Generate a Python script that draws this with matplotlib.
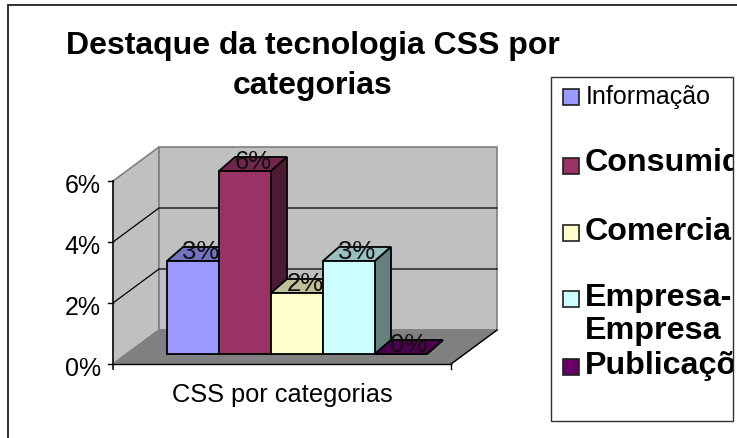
import numpy as np
import matplotlib
matplotlib.use('Agg')
import matplotlib.pyplot as plt
from matplotlib.patches import Polygon, Rectangle
from matplotlib.transforms import IdentityTransform

plt.rcParams['font.family'] = ['Liberation Sans', 'DejaVu Sans']

# Data
categories = ['Informação', 'Consumidor', 'Comercial', 'Empresa-\nEmpresa', 'Publicações']
values = [3.05, 6.0, 2.0, 3.05, 0.0]
value_labels = ['3%', '6%', '2%', '3%', '0%']
y_ticks = [0, 2, 4, 6]
y_tick_labels = ['0%', '2%', '4%', '6%']
x_label = 'CSS por categorias'
title_lines = ['Destaque da tecnologia CSS por', 'categorias']

face = ['#9999ff', '#993366', '#ffffcc', '#ccffff', '#660066']
top = ['#7373bf', '#73264d', '#bfbf99', '#99bfbf', '#4d004d']
side = ['#4d4d80', '#4d1a33', '#808066', '#668080', '#330033']

W, H = 737, 439
fig = plt.figure(figsize=(W / 100, H / 100), dpi=100)

# front plane of the 3d box, in pixels
left, right, y0, y6 = 113, 451, 365, 182
ax = fig.add_axes([left / W, 1 - y0 / H, (right - left) / W, (y0 - y6) / H])
ax.set_ylim(0, 6)
ax.set_xlim(-54 / 52, (right - 167) / 52)
ax.axis('off')

ident = IdentityTransform()
box_d = np.array([46, 34])
bar_d = np.array([16, 14])
bar_front = np.array([0, 10])


def pt(x, y, off=(0, 0)):
    return ax.transData.transform((x, y)) + np.array(off)


def poly(pts, fc, ec='black', lw=1.3, z=2):
    ax.add_patch(Polygon(pts, closed=True, fc=fc, ec=ec, lw=lw, transform=ident,
                         clip_on=False, zorder=z, joinstyle='miter'))


xa, xb = ax.get_xlim()
grey = '#808080'
# walls and floor
poly([pt(xa, 0), pt(xa, 6), pt(xa, 6, box_d), pt(xa, 0, box_d)], '#c0c0c0', grey, 1.2, 1)
poly([pt(xa, 0, box_d), pt(xa, 6, box_d), pt(xb, 6, box_d), pt(xb, 0, box_d)], '#c0c0c0', grey, 1.2, 1)
poly([pt(xa, 0), pt(xa, 0, box_d), pt(xb, 0, box_d), pt(xb, 0)], grey, grey, 1.0, 1)

# gridlines on the walls
for t in y_ticks[1:-1]:
    p = np.array([pt(xa, t), pt(xa, t, box_d), pt(xb, t, box_d)])
    ax.plot(p[:, 0], p[:, 1], color='black', lw=0.9, transform=ident, clip_on=False, zorder=1.5)

# axes
p = np.array([pt(xa, 0), pt(xb, 0)])
ax.plot(p[:, 0], p[:, 1], color='black', lw=1.0, transform=ident, clip_on=False, zorder=1.6)
p = np.array([pt(xb, 0), pt(xb, 0, box_d)])
ax.plot(p[:, 0], p[:, 1], color='black', lw=1.0, transform=ident, clip_on=False, zorder=1.6)
p = np.array([pt(xb, 0), pt(xb, 0, (0, -5))])
ax.plot(p[:, 0], p[:, 1], color='black', lw=1.0, transform=ident, clip_on=False, zorder=1.6)
p = np.array([pt(xa, 0, (0, -5)), pt(xa, 6)])
ax.plot(p[:, 0], p[:, 1], color='#202020', lw=1.3, transform=ident, clip_on=False, zorder=1.6)
for t, lab in zip(y_ticks, y_tick_labels):
    p = np.array([pt(xa, t, (-5, 0)), pt(xa, t)])
    ax.plot(p[:, 0], p[:, 1], color='black', lw=1.0, transform=ident, clip_on=False, zorder=1.6)
    xy = pt(xa, t, (-12, -4))
    fig.text(xy[0] / W, xy[1] / H, lab, ha='right', va='center', fontsize=18)

# bars, back to front left to right
for i, v in enumerate(values):
    a = pt(i, 0, bar_front)
    b = pt(i + 1, 0, bar_front)
    c = pt(i + 1, v, bar_front)
    d = pt(i, v, bar_front)
    poly([d, c, c + bar_d, d + bar_d], top[i], z=3 + i)
    poly([b, c, c + bar_d, b + bar_d], side[i], z=3 + i)
    poly([a, b, c, d], face[i], z=3 + i)

for i, lab in enumerate(value_labels):
    xy = pt(i + 0.5, values[i], bar_front + np.array([8, 10]))
    ax.text(xy[0], xy[1], lab, ha='center', va='center', fontsize=18.5, transform=ident,
            clip_on=False, zorder=20, color='#101010')

ax.text(282, H - 395, x_label, transform=ident, ha='center', va='center', fontsize=18.3)

# title
fig.text(313 / W, 1 - 46 / H, title_lines[0], ha='center', va='center', fontsize=23, fontweight='bold')
fig.text(313 / W, 1 - 86 / H, title_lines[1], ha='center', va='center', fontsize=23, fontweight='bold')

# outer frame
fig.add_artist(Rectangle((8 / W, -0.02), 760 / W, 1 - 6 / H + 0.02, transform=fig.transFigure,
                         fc='none', ec='#202020', lw=1.3, zorder=0))

# legend box
lx0, lx1, ly0, ly1 = 551, 733, 78, 422
box = Rectangle((lx0 / W, 1 - ly1 / H), (lx1 - lx0) / W, (ly1 - ly0) / H, transform=fig.transFigure,
                fc='white', ec='#303030', lw=1.0, zorder=0.5)
fig.add_artist(box)
swatch_y = [98, 167, 234, 300, 368]
text_y = [97, 163, 232, [298, 331], 366]
for i, cat in enumerate(categories):
    sx, sy = 563, swatch_y[i]
    fig.add_artist(Rectangle((sx / W, 1 - (sy + 8) / H), 16 / W, 16 / H, transform=fig.transFigure,
                             fc=face[i], ec='#202020', lw=1.2, zorder=3))
    if i == 0:
        fig.text(586 / W, 1 - 97 / H, cat, va='center', fontsize=18, zorder=3)
    else:
        for line, ty in zip(cat.split('\n'), np.ravel(text_y[i])):
            txt = fig.text(585 / W, 1 - ty / H, line, va='center', fontsize=23.2, fontweight='bold',
                           zorder=3)
            txt.set_clip_path(box)
            txt.set_clip_on(True)

fig.savefig('out.png', dpi=100)
